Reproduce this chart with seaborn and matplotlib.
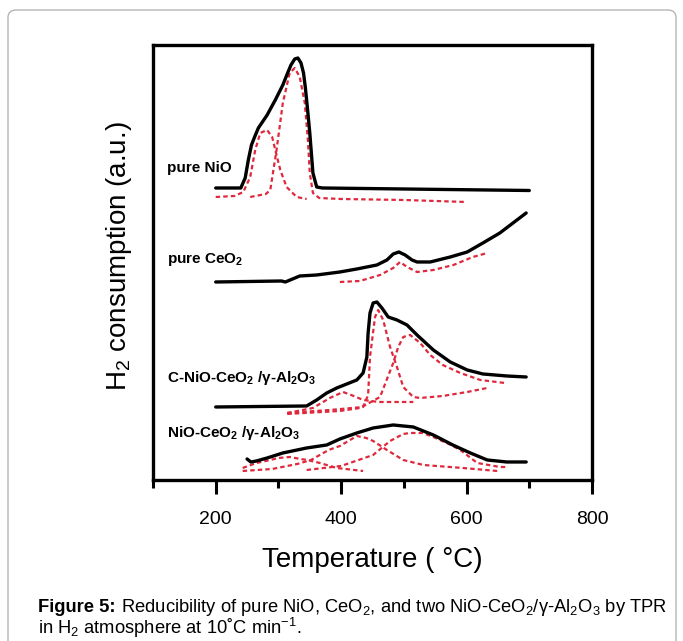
import matplotlib
matplotlib.use("Agg")
import matplotlib.pyplot as plt
import seaborn as sns
import pandas as pd
from matplotlib.patches import FancyBboxPatch

# TPR profiles (temperature in C, signal in arbitrary units)
nio_T = [200, 240, 247, 252, 257, 262, 268, 282, 295, 307, 314, 320, 326, 331, 336, 340, 343, 347, 350, 355, 361, 370, 500, 700]
nio_h = [290, 290, 300, 318, 333, 341, 350, 363, 378, 393, 404, 413, 419, 420, 415, 405, 390, 365, 345, 305, 291, 290, 289, 287.5]
nio_p1_T = [200, 230, 244, 255, 263, 271, 282, 290, 295, 303, 313, 329, 345]
nio_p1_h = [281, 282, 286, 301, 328, 345, 348, 341, 328, 308, 291, 281, 279]
nio_p2_T = [255, 280, 287, 297, 307, 318, 326, 334, 342, 347, 350, 355, 365, 400, 500, 600]
nio_p2_h = [281, 284, 288, 328, 375, 405, 410, 401, 375, 338, 305, 285, 280, 279, 278, 276]

ceo2_T = [200, 305, 311, 334, 361, 398, 425, 457, 473, 483, 492, 502, 513, 521, 542, 574, 601, 626, 653, 674, 695]
ceo2_h = [196, 197, 196, 202, 203, 206, 209, 213, 218, 224, 226, 223, 218, 216, 216, 221, 226, 235, 245, 255, 265]
ceo2_fit_T = [398, 430, 462, 483, 494, 505, 521, 547, 579, 610, 633]
ceo2_fit_h = [196, 197, 203, 210, 216, 211, 206, 208, 213, 221, 225]

cnio_T = [200, 345, 361, 377, 393, 409, 425, 435, 441, 443, 446, 451, 457, 465, 475, 489, 505, 521, 547, 574, 601, 626, 664, 695]
cnio_h = [71, 72, 78, 85, 90, 94, 98, 105, 121, 145, 165, 175, 176, 170, 161, 158, 153, 143, 128, 116, 108, 104, 102, 101]
cnio_pa_T = [314, 355, 382, 403, 420, 435, 460, 515]
cnio_pa_h = [65, 70, 80, 86, 82, 78, 76, 76]
cnio_pb_T = [314, 382, 435, 443, 446, 454, 459, 467, 478, 489, 499, 515, 526, 562, 601, 633]
cnio_pb_h = [65, 68, 71, 83, 121, 161, 168, 158, 131, 111, 91, 81, 80, 82, 86, 90]
cnio_pc_T = [314, 398, 430, 462, 483, 491, 499, 510, 526, 542, 562, 590, 622, 661]
cnio_pc_h = [64, 67, 70, 81, 115, 131, 141, 143, 135, 123, 113, 105, 98, 95]

nc_T = [250, 256, 265, 282, 307, 345, 377, 398, 425, 451, 483, 515, 547, 578, 606, 633, 664, 695]
nc_h = [19, 16, 17, 20, 25, 30, 33, 39, 45, 50, 53, 51, 43, 33, 25, 18, 16, 16]
nc_p1_T = [243, 265, 287, 300, 318, 335, 346, 366, 393, 435]
nc_p1_h = [10, 15, 18, 20, 21, 19, 18, 15, 10, 7]
nc_p2_T = [243, 290, 330, 352, 380, 398, 425, 440, 451, 473, 499, 531, 594, 649]
nc_p2_h = [7, 9, 14, 18, 28, 32, 42, 40, 37, 28, 18, 13, 10, 7]
nc_p3_T = [345, 400, 451, 478, 499, 510, 530, 547, 575, 590, 617, 653, 665]
nc_p3_h = [8, 12, 23, 37, 44, 45, 45, 41, 33, 28, 15, 11, 11]

solid_curves = [(nio_T, nio_h), (ceo2_T, ceo2_h), (cnio_T, cnio_h), (nc_T, nc_h)]
fit_curves = [(nio_p1_T, nio_p1_h), (nio_p2_T, nio_p2_h), (ceo2_fit_T, ceo2_fit_h),
              (cnio_pa_T, cnio_pa_h), (cnio_pb_T, cnio_pb_h), (cnio_pc_T, cnio_pc_h),
              (nc_p1_T, nc_p1_h), (nc_p2_T, nc_p2_h), (nc_p3_T, nc_p3_h)]

sample_labels = ["pure NiO", "pure CeO$_2$", "C-NiO-CeO$_2$ /γ-Al$_2$O$_3$", "NiO-CeO$_2$ /γ-Al$_2$O$_3$"]
label_h = [310, 218, 100, 45]

sns.set_style("white")
plt.rcParams['font.family'] = ['Liberation Sans', 'DejaVu Sans']
plt.rcParams['text.color'] = 'black'
plt.rcParams['axes.labelcolor'] = 'black'
plt.rcParams['xtick.color'] = 'black'
plt.rcParams['mathtext.fontset'] = 'custom'
plt.rcParams['mathtext.rm'] = 'Liberation Sans'
plt.rcParams['mathtext.bf'] = 'Liberation Sans:bold'
plt.rcParams['mathtext.default'] = 'regular'

fig = plt.figure(figsize=(6.83, 6.41), dpi=100)
ax = fig.add_axes([0.224, 0.2512, 0.6428, 0.6786])

red = '#e0283c'
for T, h in fit_curves:
    d = pd.DataFrame({'T': T, 'h': h})
    sns.lineplot(data=d, x='T', y='h', ax=ax, color=red, lw=1.6, sort=False,
                 estimator=None)
for line in ax.lines:
    line.set_dashes((2, 1.4))
for T, h in solid_curves:
    d = pd.DataFrame({'T': T, 'h': h})
    sns.lineplot(data=d, x='T', y='h', ax=ax, color='black', lw=2.4, sort=False,
                 estimator=None)

for txt, y in zip(sample_labels, label_h):
    ax.text(122, y, txt, fontsize=11, fontweight='bold', va='center', ha='left')

ax.set_xlim(100, 800)
ax.set_ylim(-2, 433)
ax.set_yticks([])
ax.set_xticks([200, 400, 600, 800])
ax.set_xticks([100, 300, 500, 700], minor=True)
ax.tick_params(axis='x', which='major', length=10, width=2.2, direction='out',
               bottom=True, labelsize=14, pad=12)
ax.tick_params(axis='x', which='minor', length=6, width=2.2, direction='out',
               bottom=True)
for s in ax.spines.values():
    s.set_linewidth(2.4)
    s.set_color('black')

ax.set_xlabel("Temperature ( °C)", fontsize=20)
ax.xaxis.set_label_coords(0.5, -0.184)
ax.xaxis.label.set_va('center')
ax.set_ylabel("H$_2$ consumption (a.u.)", fontsize=20)
ax.yaxis.set_label_coords(-0.077, 0.515)
ax.yaxis.label.set_va('center')

# caption
cap = fig.text(38 / 683, 1 - 607 / 641, "Figure 5:", fontsize=13.2, fontweight='bold', va='center')
plt.annotate(" Reducibility of pure NiO, CeO$_2$, and two NiO-CeO$_2$/γ-Al$_2$O$_3$ by TPR",
             xy=(1, 0.5), xycoords=cap, va='center', ha='left', fontsize=13.2,
             annotation_clip=False)
fig.text(38 / 683, 1 - 628 / 641, "in H$_2$ atmosphere at 10˚C min$^{-1}$.", fontsize=13.2, va='center')

border = FancyBboxPatch((8 / 683, -0.05), 668 / 683, 1 - 10 / 641 + 0.05,
                        boxstyle="round,pad=0,rounding_size=0.012",
                        transform=fig.transFigure, fill=False, ec='#b5b5b5', lw=1)
fig.add_artist(border)

fig.savefig("out.png", dpi=100)
